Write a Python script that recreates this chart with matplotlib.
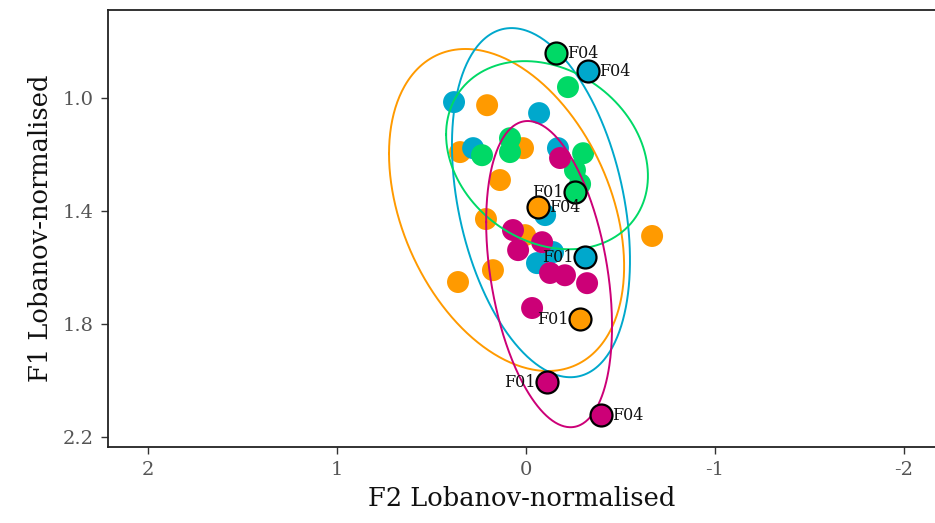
import numpy as np
import matplotlib
matplotlib.use("Agg")
import matplotlib.pyplot as plt

plt.rcParams['font.family'] = ['DejaVu Serif']

# Lobanov-normalised formant values per vowel group
groups = ["A", "B", "C", "D"]
colors = {"A": "#FF9A00", "B": "#00A8CC", "C": "#00D966", "D": "#CC0077"}

f2_A = [0.206, 0.349, 0.016, 0.138, 0.212, 0.005, 0.175, 0.360, -0.667]
f1_A = [1.025, 1.191, 1.177, 1.290, 1.428, 1.485, 1.609, 1.651, 1.488]
f2_B = [0.381, -0.069, 0.280, -0.169, -0.101, -0.058, -0.143]
f1_B = [1.014, 1.053, 1.177, 1.177, 1.414, 1.584, 1.545]
f2_C = [-0.222, 0.233, 0.085, 0.085, -0.302, -0.259, -0.286]
f1_C = [0.961, 1.202, 1.142, 1.191, 1.195, 1.255, 1.304]
f2_D = [-0.180, 0.069, 0.042, -0.085, -0.127, -0.206, -0.323, -0.032]
f1_D = [1.212, 1.467, 1.538, 1.510, 1.619, 1.627, 1.655, 1.743]

points = {"A": (f2_A, f1_A), "B": (f2_B, f1_B), "C": (f2_C, f1_C), "D": (f2_D, f1_D)}

# Speaker-specific means (highlighted)
hl_group = ["A", "A", "B", "B", "C", "C", "D", "D"]
hl_speaker = ["F04", "F01", "F04", "F01", "F04", "F01", "F01", "F04"]
hl_f2 = [-0.063, -0.286, -0.328, -0.312, -0.159, -0.259, -0.111, -0.397]
hl_f1 = [1.386, 1.782, 0.904, 1.563, 0.841, 1.333, 2.005, 2.122]

# Confidence ellipses: centre, half-extent in F2 and F1, correlation
ell_cx = {"A": 0.103, "B": -0.079, "C": -0.111, "D": -0.122}
ell_cy = {"A": 1.396, "B": 1.370, "C": 1.202, "D": 1.623}
ell_wx = {"A": 0.622, "B": 0.471, "C": 0.534, "D": 0.333}
ell_hy = {"A": 0.570, "B": 0.618, "C": 0.333, "D": 0.542}
ell_r = {"A": -0.35, "B": -0.33, "C": -0.22, "D": -0.34}

fig = plt.figure(figsize=(9.35, 5.23), dpi=100)
ax = fig.add_axes([108 / 935, 76 / 523, 1 - 108 / 935, 437 / 523])

for g in groups:
    x, y = points[g]
    ax.scatter(x, y, s=250, color=colors[g], edgecolors="none", zorder=2)

t = np.linspace(0, 2 * np.pi, 400)
for g in groups:
    wx, hy, r = ell_wx[g], ell_hy[g], ell_r[g]
    ex = ell_cx[g] + wx * np.cos(t)
    ey = ell_cy[g] + r * hy * np.cos(t) + np.sqrt(1 - r ** 2) * hy * np.sin(t)
    ax.plot(ex, ey, color=colors[g], lw=1.4, zorder=3)

for g, sp, x, y in zip(hl_group, hl_speaker, hl_f2, hl_f1):
    ax.scatter([x], [y], s=250, color=colors[g], edgecolors="black",
               linewidths=1.6, zorder=4)
    if sp == "F01":
        ax.annotate(sp, (x, y), xytext=(-8, 0), textcoords="offset points",
                    ha="right", va="center", fontsize=11.5, color="#111111", zorder=5)
    else:
        ax.annotate(sp, (x, y), xytext=(8, 0), textcoords="offset points",
                    ha="left", va="center", fontsize=11.5, color="#111111", zorder=5)

ax.set_xlim(2.212, -2.164)
ax.set_ylim(2.235, 0.688)
ax.set_xticks([2, 1, 0, -1, -2])
ax.set_xticklabels(["2", "1", "0", "-1", "-2"])
ax.set_yticks([1.0, 1.4, 1.8, 2.2])
ax.set_yticklabels(["1.0", "1.4", "1.8", "2.2"])

for side in ["left", "bottom", "top"]:
    ax.spines[side].set_linewidth(1.3)
    ax.spines[side].set_color("#222222")
ax.spines["right"].set_visible(False)

ax.tick_params(axis="both", length=5, width=1.0, color="#333333",
               labelsize=14, labelcolor="#555555", pad=5)

ax.set_xlabel("F2 Lobanov-normalised", fontsize=18.5, color="#111111", labelpad=5)
ax.set_ylabel("F1 Lobanov-normalised", fontsize=18.5, color="#111111", labelpad=7)

fig.savefig("out.png", dpi=100)
